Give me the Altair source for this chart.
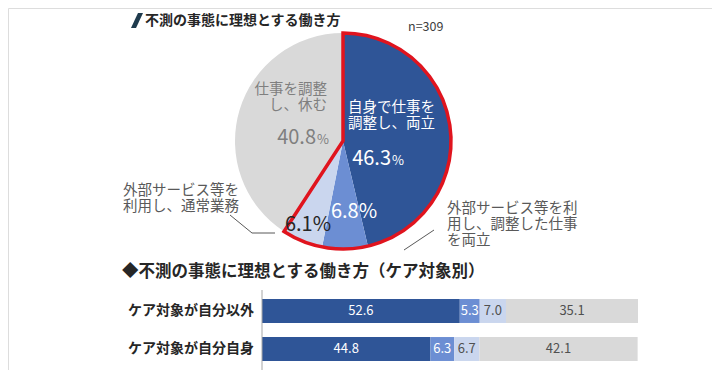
import altair as alt
import pandas as pd

FONT = "Noto Sans CJK JP"

# ---- data ----
categories = [
    "自身で仕事を調整し、両立",
    "外部サービス等を利用し、調整した仕事を両立",
    "外部サービス等を利用し、通常業務",
    "仕事を調整し、休む",
]
pie_values = [46.3, 6.8, 6.1, 40.8]
colors = ["#2F5597", "#6C8ED3", "#CAD6EE", "#D9D9D9"]

rows = ["ケア対象が自分以外", "ケア対象が自分自身"]
others_values = [52.6, 5.3, 7.0, 35.1]
self_values = [44.8, 6.3, 6.7, 42.1]

title1 = "不測の事態に理想とする働き方"
title2 = "◆不測の事態に理想とする働き方（ケア対象別）"
n_text = "n=309"
lbl_self = ["自身で仕事を", "調整し、両立"]
lbl_rest = ["仕事を調整", "し、休む"]
lbl_left = ["外部サービス等を", "利用し、通常業務"]
lbl_right = ["外部サービス等を利", "用し、調整した仕事", "を両立"]

pie_df = pd.DataFrame({"category": categories, "value": pie_values,
                       "order": [1, 2, 3, 4]})
bar_df = pd.DataFrame({
    "row": [rows[0]] * 4 + [rows[1]] * 4,
    "category": categories * 2,
    "value": others_values + self_values,
    "order": [1, 2, 3, 4] * 2,
})
one = pd.DataFrame({"a": [0]})

# ---- geometry (chart coordinates) ----
CX, CY, R = 335, 133, 108
X0, X1 = 254, 630
Y0, Y1 = 284, 360

color_scale = alt.Scale(domain=categories, range=colors)
theta_scale = alt.Scale(domain=[0, 100])
x_scale = alt.Scale(domain=[0, 100], range=[X0, X1])
y_scale = alt.Scale(domain=rows, range=[Y0, Y1], paddingInner=0.37, paddingOuter=0.185)

pie = alt.Chart(pie_df).mark_arc(radius=R).encode(
    theta=alt.Theta("value:Q", stack=True, scale=theta_scale),
    color=alt.Color("category:N", scale=color_scale, legend=None),
    order=alt.Order("order:Q"),
    x=alt.value(CX), y=alt.value(CY),
)

outline = alt.Chart(pie_df).transform_filter(alt.datum.order <= 3).transform_aggregate(
    value="sum(value)"
).mark_arc(radius=R, fillOpacity=0, stroke="#E0141E", strokeWidth=3.5, strokeJoin="miter").encode(
    theta=alt.Theta("value:Q", stack=True, scale=theta_scale),
    x=alt.value(CX), y=alt.value(CY),
)

bars = alt.Chart(bar_df).mark_bar().encode(
    x=alt.X("value:Q", stack="zero", scale=x_scale, axis=None),
    y=alt.Y("row:N", scale=y_scale, axis=None),
    color=alt.Color("category:N", scale=color_scale, legend=None),
    order=alt.Order("order:Q"),
)

bar_text = alt.Chart(bar_df).transform_stack(
    stack="value", groupby=["row"], sort=[alt.SortField("order")], as_=["x0", "x1"]
).transform_calculate(mid="(datum.x0 + datum.x1) / 2").mark_text(
    font=FONT, fontSize=13, baseline="middle"
).encode(
    x=alt.X("mid:Q", scale=x_scale, axis=None),
    y=alt.Y("row:N", scale=y_scale, axis=None),
    text=alt.Text("value:Q", format=".1f"),
    color=alt.when(alt.datum.order <= 2).then(alt.value("white")).otherwise(alt.value("#505050")),
)

row_labels = alt.Chart(pd.DataFrame({"row": rows})).mark_text(
    font=FONT, fontSize=14, fontWeight="bold", align="right", baseline="middle", color="#262626"
).encode(
    x=alt.value(246),
    y=alt.Y("row:N", scale=y_scale, axis=None),
    text="row:N",
)

axis_rule = alt.Chart(one).mark_rule(color="#A6A6A6", strokeWidth=1).encode(
    x=alt.value(X0), y=alt.value(282), y2=alt.value(362)
)


def txt(text, x, y, size=14.5, color="#595959", align="left", baseline="top", weight="normal", lh=16):
    return alt.Chart(one).mark_text(
        font=FONT, fontSize=size, color=color, align=align, baseline=baseline,
        fontWeight=weight, lineHeight=lh, text=text,
    ).encode(x=alt.value(x), y=alt.value(y))


def seg(x1, y1, x2, y2):
    return alt.Chart(one).mark_rule(color="#595959", strokeWidth=1).encode(
        x=alt.value(x1), y=alt.value(y1), x2=alt.value(x2), y2=alt.value(y2)
    )


def pct_small(i, xr, yb, color, size=20):
    base = alt.Chart(pie_df).transform_filter(alt.datum.order == i)
    num = base.mark_text(font=FONT, fontSize=size, color=color, align="right",
                         baseline="alphabetic").encode(
        x=alt.value(xr), y=alt.value(yb), text=alt.Text("value:Q", format=".1f"))
    pc = base.mark_text(font=FONT, fontSize=13, color=color, align="left",
                        baseline="alphabetic").encode(
        x=alt.value(xr + 1), y=alt.value(yb), text=alt.value("%"))
    return num + pc


def pct_full(i, xc, ym, color, size=20):
    base = alt.Chart(pie_df).transform_filter(alt.datum.order == i).transform_calculate(
        lab="format(datum.value, '.1f') + '%'")
    return base.mark_text(font=FONT, fontSize=size, color=color, align="center",
                          baseline="middle").encode(
        x=alt.value(xc), y=alt.value(ym), text="lab:N")


slash = alt.Chart(one).mark_point(
    shape="M0.13,-1 L0.8,-1 L-0.13,1 L-0.8,1 Z", filled=True, size=225,
    color="#1F3B4D", opacity=1, strokeWidth=0,
).encode(x=alt.value(129), y=alt.value(12.5))

layers = [
    pie, outline, bars, bar_text, row_labels, axis_rule, slash,
    txt(title1, 137, 13, size=14, color="#262626", baseline="middle", weight="bold"),
    txt(n_text, 400, 19, size=12.5, color="#404040", baseline="middle"),
    txt(title2, 114, 264, size=16.5, color="#262626", baseline="middle", weight="bold"),
    txt(lbl_self, 340, 93, color="white"),
    txt(lbl_rest, 319, 75, color="#7F7F7F", align="right"),
    txt(lbl_left, 115, 176),
    txt(lbl_right, 439, 194),
    pct_small(1, 383, 157, "white"),
    pct_small(4, 308, 136, "#7F7F7F"),
    pct_full(2, 346, 204, "white"),
    pct_full(3, 300, 217, "#262626"),
    seg(222, 207, 244, 225), seg(244, 225, 267, 225),
    seg(396, 242, 426, 222),
]

chart = alt.layer(*layers).properties(
    width=704, height=362, autosize=alt.AutoSizeParams(type="none"), padding=0
).configure_view(strokeWidth=0).configure(font=FONT)

chart.save("out.html", embed_options={"renderer": "svg", "actions": False})
